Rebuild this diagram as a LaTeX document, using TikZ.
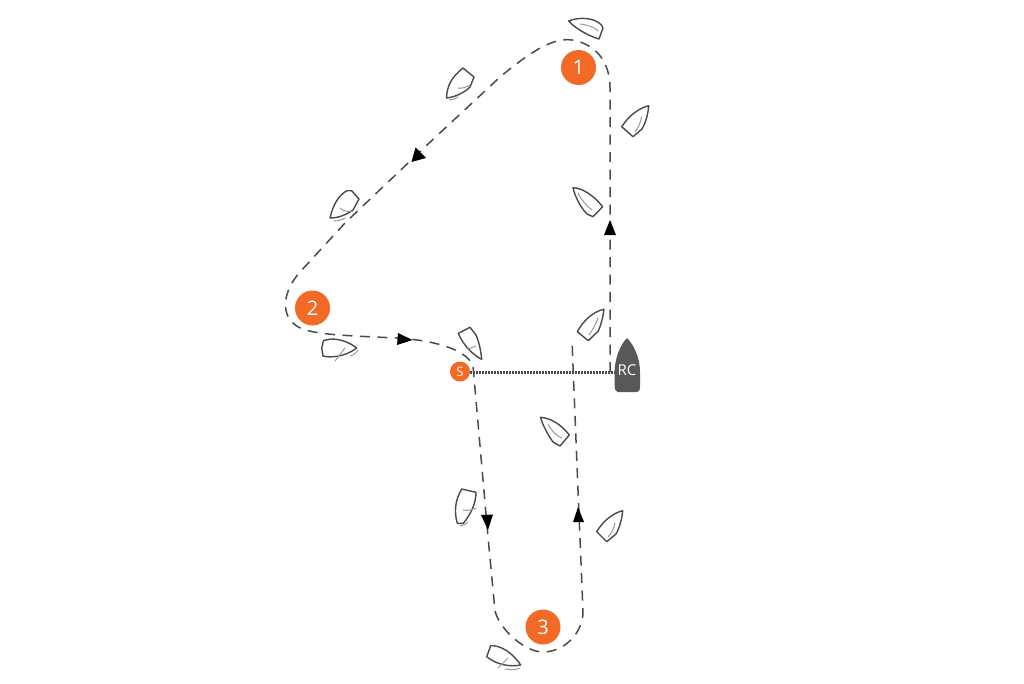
\documentclass[tikz,border=0pt]{standalone}
\usepackage{fontspec}
\setmainfont{Open Sans}
\definecolor{markorange}{HTML}{F26A26}
\definecolor{rcgrey}{HTML}{58585A}
\definecolor{linegrey}{HTML}{4A4A4C}
\tikzset{
  course/.style={draw=linegrey,line width=1.5pt,dash pattern=on 10pt off 7.5pt},
  hull/.style={draw=linegrey,line width=1.4pt,line join=round,fill=white},
  sail/.style={draw=black!40,line width=1pt,line cap=round},
  tip/.style={fill=black,draw=none},
  markbig/.style={circle,fill=markorange,minimum size=35pt,inner sep=0pt,text=white,font=\fontsize{20}{20}\selectfont},
  marksmall/.style={circle,fill=markorange,minimum size=20pt,inner sep=0pt,text=white,font=\fontsize{13}{13}\selectfont},
  rclabel/.style={inner sep=0pt,text=white,font=\fontsize{15}{15}\selectfont},
  startline/.style={draw=linegrey,line width=2.1pt,dash pattern=on 1.6pt off 1.4pt}
}
\begin{document}
\begin{tikzpicture}[x=1pt,y=-1pt]
\useasboundingbox[fill=white] (0,0) rectangle (1024,683);

% course
\path[course] (610,372) -- (610,88) .. controls (610,62) and (596,44) .. (572,40)
  .. controls (552,37) and (528,54) .. (500,77) -- (427,145) -- (345,223) -- (300,272)
  .. controls (284,290) and (280,312) .. (294,324) .. controls (306,334) and (330,335) .. (397,338)
  .. controls (430,340) and (466,348) .. (473,366) -- (488,537) -- (495,611)
  .. controls (500,630) and (525,652) .. (543,652) .. controls (565,652) and (583,632) .. (583,612)
  -- (578,490) -- (572,341);

% start line
\node[marksmall] (S) at (460,371.5) {S};
\coordinate (rcend) at (616,372.5);
\draw[startline] (S.east |- rcend) -- (rcend);

% arrowheads
\fill[tip] (610,220) -- (616,235) -- (604,235) -- cycle;
\fill[tip] (411.5,162) -- (415.5,147.5) -- (426,158) -- cycle;
\fill[tip] (412.5,340) -- (398,333) -- (397,345) -- cycle;
\fill[tip] (488,530) -- (481,515) -- (493,514.5) -- cycle;
\fill[tip] (578,507) -- (584,522) -- (573,522) -- cycle;

% race committee boat
\fill[rcgrey] (627,338) .. controls (620,345) and (615,358) .. (614.5,372) -- (614.5,386)
  .. controls (615,390) and (616,392) .. (618,392) -- (637,392)
  .. controls (639,392) and (640,390) .. (640,386) -- (640,372)
  .. controls (640,358) and (634,345) .. (627,338) -- cycle;
\node[rclabel] (RC) at (627,370) {RC};

% marks
\node[markbig] (m1) at (578.5,67.5) {1};
\node[markbig] (m2) at (312.5,308) {2};
\node[markbig] (m3) at (543,627) {3};

% boats
% top
\draw[hull] (568.5,21) .. controls (578,17) and (594,17) .. (601.5,25) -- (603,28) -- (599,39) .. controls (592,37) and (578,31) .. (568.5,21) -- cycle;
\draw[sail] (580,24) .. controls (588,25) and (594,27) .. (598,31);
% upper-left
\draw[hull] (446.5,98) .. controls (447,85) and (452,77) .. (463,68) -- (474,77) -- (470,87) .. controls (464,93) and (455,97) .. (446.5,98) -- cycle;
\draw[sail] (458,88) .. controls (462,89) and (466,87) .. (470,85);
\draw[sail] (449,100) .. controls (452,100) and (455,99) .. (458,97);
% right of top leg
\draw[hull] (648.7,105.7) .. controls (640,108) and (630,114) .. (621.7,126.7) -- (633,136.7) -- (642,129) .. controls (646,122) and (648,114) .. (648.7,105.7) -- cycle;
\draw[sail] (641.5,117) .. controls (641,122) and (638,128) .. (635,132);
% on top leg
\draw[hull] (573,187.7) .. controls (583,188) and (594,196) .. (602.7,206.7) -- (593,216.7) -- (587,214) .. controls (581,208) and (575,197) .. (573,187.7) -- cycle;
\draw[sail] (578,193) .. controls (581,199) and (586,206) .. (592,210);
% left mid
\draw[hull] (330,218) .. controls (333,205) and (338,196) .. (346.7,190.7) -- (351.7,190.7) -- (359,199) -- (353,210) .. controls (346,215) and (338,218) .. (330,218) -- cycle;
\draw[sail] (340,208) .. controls (343,211) and (347,212) .. (353,211);
\draw[sail] (334,221) .. controls (338,221) and (342,220) .. (345,218);
% near mark 2
\draw[hull] (356.7,348) .. controls (349,342) and (340,339) .. (331,339) -- (323.5,340.5) -- (321.7,348) -- (323,356) .. controls (330,358) and (345,357) .. (356.7,348) -- cycle;
\draw[sail] (335,361) -- (345,348);
\draw[sail] (350,356) .. controls (354,355) and (357,352) .. (358,350);
% near S
\draw[hull] (458.3,333.3) -- (470,327.3) -- (476,335) .. controls (479,342) and (481,351) .. (481.7,359.3) .. controls (473,355) and (463,345) .. (458.3,333.3) -- cycle;
\draw[sail] (468,349) .. controls (471,348) and (473,347) .. (476,346);
% right of start
\draw[hull] (604,309.3) .. controls (595,311) and (584,319) .. (577.3,331.7) -- (588.3,340.7) -- (598.3,331) .. controls (601,325) and (603,317) .. (604,309.3) -- cycle;
\draw[sail] (598,318) .. controls (596,324) and (592,331) .. (589,335);
% below start
\draw[hull] (540.5,417.3) .. controls (550,418) and (561,424) .. (569.3,435) -- (560,446) -- (553,442) .. controls (548,435) and (543,426) .. (540.5,417.3) -- cycle;
\draw[sail] (548,424) .. controls (551,430) and (556,436) .. (562,438);
% left of lower leg
\draw[hull] (457.3,523.3) .. controls (454,512) and (455,500) .. (461.7,489) -- (476,492.3) .. controls (476,503) and (471,514) .. (463.3,523.3) -- cycle;
\draw[sail] (463,510) .. controls (467,511) and (472,510) .. (476,508);
\draw[sail] (460,526) .. controls (463,526) and (466,524) .. (468,522);
% right of lower leg
\draw[hull] (622.7,510.7) .. controls (613,513) and (603,521) .. (596.7,531.7) -- (606.7,541.7) -- (616,534) .. controls (620,527) and (622,518) .. (622.7,510.7) -- cycle;
\draw[sail] (615,523) .. controls (614,529) and (611,534) .. (608,537);
% bottom
\draw[hull] (486.7,656.7) -- (490.7,645.7) .. controls (500,645) and (512,652) .. (520.7,665) .. controls (510,667) and (497,665) .. (486.7,656.7) -- cycle;
\draw[sail] (498,668) -- (508,658);
\draw[sail] (505,669) .. controls (511,670) and (516,670) .. (520,668);
\end{tikzpicture}
\end{document}
